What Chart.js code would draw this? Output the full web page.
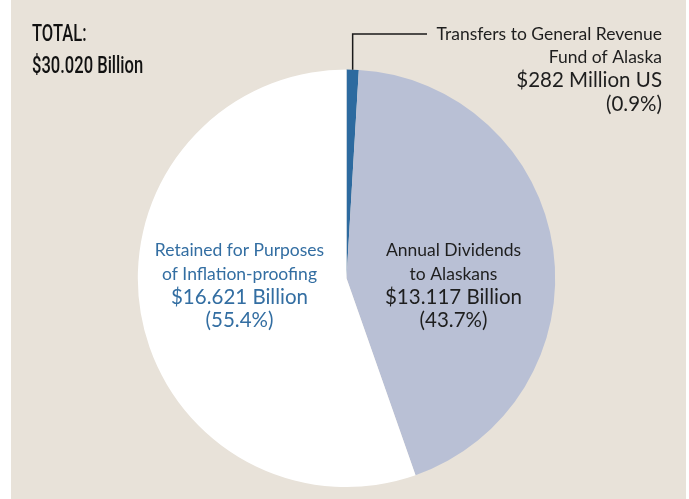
<!DOCTYPE html>
<html>
<head>
<meta charset="utf-8">
<script src="https://cdn.jsdelivr.net/npm/chart.js@4"></script>
<style>
  html, body { margin: 0; padding: 0; background: #ffffff; }
  #panel { position: absolute; left: 11px; top: 0; width: 675px; height: 499px; background: #e8e2d9; }
  #wrap { position: absolute; left: 0; top: 0; width: 689px; height: 499px; }
</style>
</head>
<body>
<div id="panel"></div>
<div id="wrap"><canvas id="chart"></canvas></div>
<script>
// Distribution of the fund's earnings, in billions of dollars
const categories = ['Transfers to General Revenue Fund of Alaska', 'Annual Dividends to Alaskans', 'Retained for Purposes of Inflation-proofing'];
const amounts = [0.282, 13.117, 16.621];
const shares = [0.9, 43.7, 55.4];
const amountLabels = ['$282 Million US', '$13.117 Billion', '$16.621 Billion'];
const nameLines = [
  ['Transfers to General Revenue', 'Fund of Alaska'],
  ['Annual Dividends', 'to Alaskans'],
  ['Retained for Purposes', 'of Inflation-proofing']
];
const totalLines = ['TOTAL:', '$30.020 Billion'];

const sliceColors = ['#2d6a9f', '#b9c0d5', '#ffffff'];
const textColors = ['#1e1e1e', '#1e1e1e', '#336ea2'];
const LABEL_FONT = '"Lato", "Liberation Sans", sans-serif';

// Condensed text: draw squeezed horizontally
function narrowText(ctx, text, x, y, squeeze) {
  ctx.save();
  ctx.translate(x, y);
  ctx.scale(squeeze, 1);
  ctx.fillText(text, 0, 0);
  ctx.restore();
}

// Text blocks: name lines, amount, share
const sliceLabels = {
  id: 'sliceLabels',
  afterDraw(chart) {
    const ctx = chart.ctx;
    const arcs = chart.getDatasetMeta(0).data;
    const c = arcs[0].getProps(['x', 'y', 'outerRadius']);
    ctx.save();

    // Total at top-left
    ctx.fillStyle = '#111111';
    ctx.textAlign = 'left';
    ctx.textBaseline = 'alphabetic';
    ctx.font = '500 23px Roboto, "Liberation Sans", sans-serif';
    narrowText(ctx, totalLines[0], 32, 41, 0.72);
    narrowText(ctx, totalLines[1], 32, 72.5, 0.72);

    function block(i, x, y0, align) {
      ctx.textAlign = align;
      ctx.fillStyle = textColors[i];
      const lines = [nameLines[i][0], nameLines[i][1], amountLabels[i], '(' + shares[i] + '%)'];
      lines.forEach((t, k) => {
        ctx.font = (k < 2 ? '17.5px ' : '20.5px ') + LABEL_FONT;
        ctx.fillText(t, x, y0 + k * 23.8);
      });
    }

    // Leader line from the small slice up to its label
    const a = arcs[0].getProps(['startAngle', 'endAngle']);
    const mid = (a.startAngle + a.endAngle) / 2;
    const px = c.x + c.outerRadius * Math.cos(mid);
    const py = c.y + c.outerRadius * Math.sin(mid);
    ctx.strokeStyle = '#1a1a1a';
    ctx.lineWidth = 1.5;
    ctx.beginPath();
    ctx.moveTo(px, py);
    ctx.lineTo(px, 34);
    ctx.lineTo(427, 34);
    ctx.stroke();
    block(0, 662, 39.5, 'right');

    // Labels inside the two large slices
    block(1, c.x + 107, 256, 'center');
    block(2, c.x - 107, 256, 'center');
    ctx.restore();
  }
};

new Chart(document.getElementById('chart'), {
  type: 'pie',
  data: {
    labels: categories,
    datasets: [{
      data: amounts,
      backgroundColor: sliceColors,
      borderWidth: 0
    }]
  },
  options: {
    responsive: true,
    maintainAspectRatio: false,
    animation: false,
    layout: { padding: { top: 69.6, bottom: 12, left: 4, right: 0 } },
    plugins: {
      legend: { display: false },
      tooltip: { enabled: false },
      title: { display: false }
    }
  },
  plugins: [sliceLabels]
});
</script>
</body>
</html>
